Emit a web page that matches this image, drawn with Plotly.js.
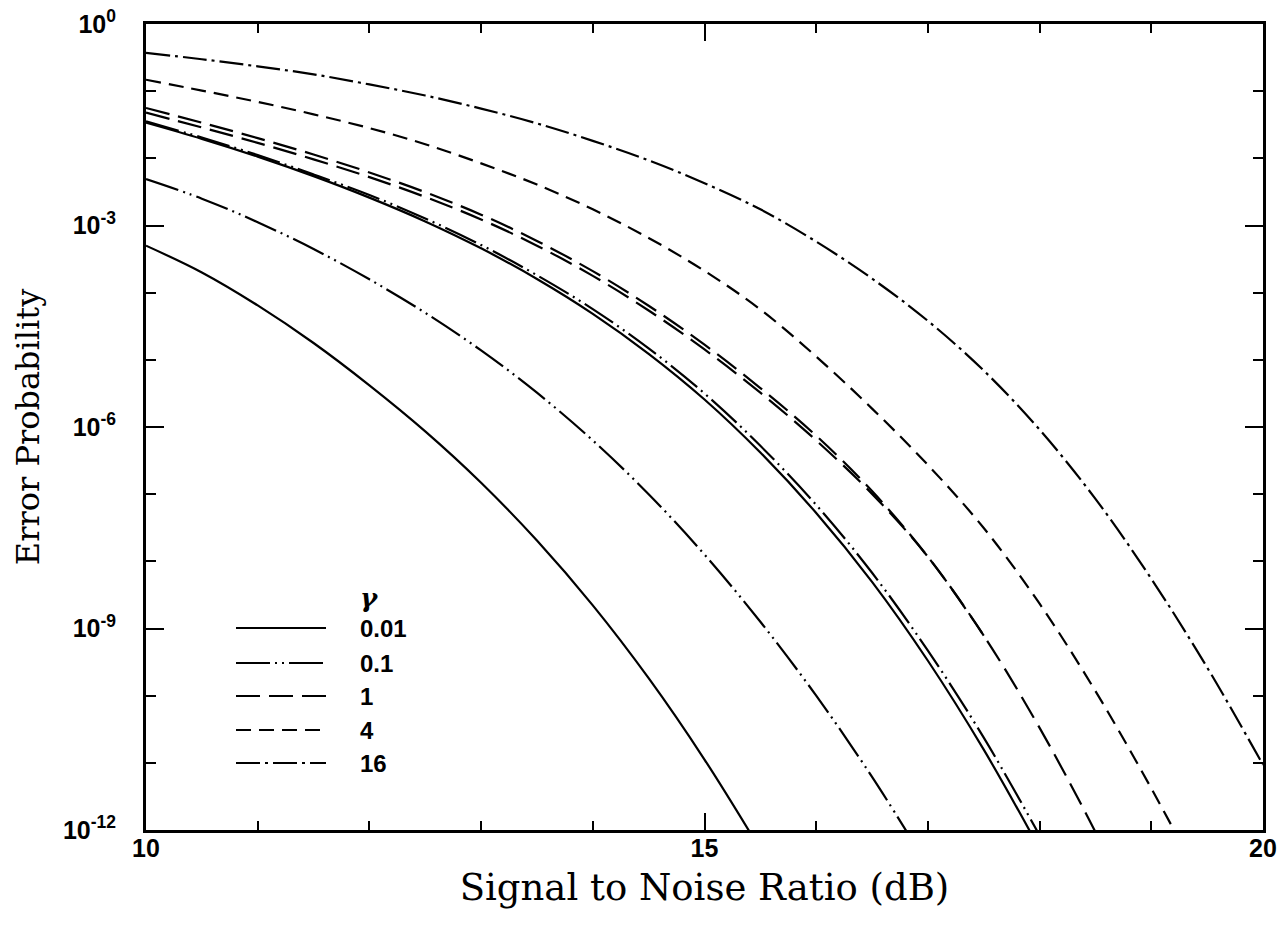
<!DOCTYPE html>
<html><head><meta charset="utf-8">
<script src="https://cdn.plot.ly/plotly-3.0.1.min.js"></script>
<style>html,body{margin:0;padding:0;background:#fff}</style>
</head><body><div id="chart" style="width:1283px;height:927px"></div>
<script>
// ---- data (SNR in dB, error probability) ----
const snrSolidLow = [10, 10.5, 11, 11.5, 12, 12.5, 13, 13.5, 14, 14.5, 15, 15.5];
const peSolidLow  = [5.01e-4, 2.0e-4, 6.46e-5, 1.78e-5, 4.17e-6, 8.61e-7, 1.48e-7, 2.04e-8, 2.21e-9, 1.82e-10, 1.12e-11, 5.13e-13];

const snrDddLow = [10, 10.5, 11, 11.5, 12, 12.5, 13, 13.5, 14, 14.5, 15, 15.5, 16, 16.5, 17];
const peDddLow  = [4.90e-3, 2.51e-3, 1.12e-3, 4.47e-4, 1.58e-4, 5.01e-5, 1.38e-5, 3.24e-6, 6.31e-7, 1.0e-7, 1.26e-8, 1.26e-9, 1.0e-10, 6.17e-12, 2.92e-13];

const snrSolidHigh = [10, 10.5, 11, 11.5, 12, 12.5, 13, 13.5, 14, 14.5, 15, 15.5, 16, 16.5, 17, 17.5, 18];
const peSolidHigh  = [3.39e-2, 1.95e-2, 1.06e-2, 5.43e-3, 2.60e-3, 1.15e-3, 4.57e-4, 1.60e-4, 4.84e-5, 1.23e-5, 2.57e-6, 4.17e-7, 5.25e-8, 4.95e-9, 3.31e-10, 1.57e-11, 5.25e-13];

const snrDddHigh = [10, 10.5, 11, 11.5, 12, 12.5, 13, 13.5, 14, 14.5, 15, 15.5, 16, 16.5, 17, 17.5, 18];
const peDddHigh  = [3.55e-2, 2.04e-2, 1.12e-2, 5.75e-3, 2.85e-3, 1.27e-3, 5.13e-4, 1.82e-4, 5.69e-5, 1.48e-5, 3.16e-6, 5.25e-7, 6.92e-8, 6.76e-9, 4.68e-10, 2.37e-11, 8.32e-13];

const snrLongA = [10, 10.5, 11, 11.5, 12, 12.5, 13, 13.5, 14, 14.5, 15, 15.5, 16, 16.5, 17, 17.5, 18, 18.5, 19];
const peLongA  = [5.62e-2, 3.39e-2, 2.0e-2, 1.14e-2, 6.17e-3, 3.13e-3, 1.45e-3, 5.89e-4, 2.09e-4, 6.38e-5, 1.68e-5, 3.80e-6, 7.41e-7, 1.11e-7, 1.17e-8, 7.85e-10, 3.31e-11, 9.33e-13, 1.86e-14];

const snrLongB = [10, 10.5, 11, 11.5, 12, 12.5, 13, 13.5, 14, 14.5, 15, 15.5, 16, 16.5, 17, 17.5];
const peLongB  = [4.79e-2, 2.88e-2, 1.70e-2, 9.66e-3, 5.25e-3, 2.66e-3, 1.23e-3, 5.01e-4, 1.78e-4, 5.43e-5, 1.43e-5, 3.24e-6, 6.31e-7, 1.01e-7, 1.17e-8, 7.85e-10];

const snrShort = [10, 10.5, 11, 11.5, 12, 12.5, 13, 13.5, 14, 14.5, 15, 15.5, 16, 16.5, 17, 17.5, 18, 18.5, 19, 19.5];
const peShort  = [0.148, 0.102, 6.92e-2, 4.52e-2, 2.82e-2, 1.62e-2, 8.41e-3, 4.07e-3, 1.74e-3, 6.53e-4, 2.11e-4, 5.62e-5, 1.12e-5, 1.88e-6, 2.72e-7, 3.13e-8, 2.34e-9, 1.17e-10, 4.17e-12, 1.17e-13];

const snrDashDot = [10, 10.5, 11, 11.5, 12, 12.5, 13, 13.5, 14, 14.5, 15, 15.5, 16, 16.5, 17, 17.5, 18, 18.5, 19, 19.5, 20];
const peDashDot  = [0.372, 0.299, 0.234, 0.178, 0.126, 8.61e-2, 5.50e-2, 3.31e-2, 1.82e-2, 9.33e-3, 4.27e-3, 1.74e-3, 5.75e-4, 1.62e-4, 3.80e-5, 6.92e-6, 9.12e-7, 8.51e-8, 5.50e-9, 2.63e-10, 9.33e-12];

const gammaLabels = ['0.01', '0.1', '1', '4', '16'];
const xTickVals = [10, 15, 20];
const xTickText = ['10', '15', '20'];
const xMinorVals = [11, 12, 13, 14, 16, 17, 18, 19];
const yTickVals = [1, 1e-3, 1e-6, 1e-9, 1e-12];
const yTickText = ['10<sup>0</sup>', '10<sup>-3</sup>', '10<sup>-6</sup>', '10<sup>-9</sup>', '10<sup>-12</sup>'];
const yMinorVals = [1e-1, 1e-2, 1e-4, 1e-5, 1e-7, 1e-8, 1e-10, 1e-11];

// ---- styles ----
const DASH = {
  '0.01': 'solid',
  '0.1': '34px,5px,2px,5px,2px,5px',
  '1': '24px,9px',
  '4': '15px,8px',
  '16': '24px,5px,3px,5px'
};
const LW = 2.2;
function tr(x, y, g, name) {
  return {x: x, y: y, type: 'scatter', mode: 'lines', name: name, showlegend: false,
    hoverinfo: 'x+y+name',
    line: {color: '#000', width: LW, dash: DASH[g], shape: 'spline', smoothing: 1}};
}
const traces = [
  tr(snrSolidLow, peSolidLow, '0.01', 'γ = 0.01 (a)'),
  tr(snrDddLow, peDddLow, '0.1', 'γ = 0.1 (a)'),
  tr(snrSolidHigh, peSolidHigh, '0.01', 'γ = 0.01 (b)'),
  tr(snrDddHigh, peDddHigh, '0.1', 'γ = 0.1 (b)'),
  tr(snrLongA, peLongA, '1', 'γ = 1 (a)'),
  tr(snrLongB, peLongB, '1', 'γ = 1 (b)'),
  tr(snrShort, peShort, '4', 'γ = 4'),
  tr(snrDashDot, peDashDot, '16', 'γ = 16')
];

// ---- hand-drawn legend (long line samples as in the reference) ----
const L = 146, R = 1263, T = 24, B = 830;
const px = v => (v - L) / (R - L);
const py = v => (B - v) / (B - T);
const rowsY = [628, 663, 696, 730, 763];
const shapes = [], annotations = [];
gammaLabels.forEach((g, i) => {
  shapes.push({type: 'line', xref: 'paper', yref: 'paper',
    x0: px(236), x1: px(g === '4' ? 320 : 326), y0: py(rowsY[i]), y1: py(rowsY[i]),
    line: {color: '#000', width: LW, dash: DASH[g]}});
  annotations.push({xref: 'paper', yref: 'paper', x: px(358), y: py(rowsY[i]),
    xanchor: 'left', yanchor: 'middle', showarrow: false, text: g,
    font: {family: 'Liberation Sans', size: 24, color: '#000', weight: 'bold'}});
});
annotations.push({xref: 'paper', yref: 'paper', x: px(358), y: py(598),
  xanchor: 'left', yanchor: 'middle', showarrow: false, text: '<i>γ</i>',
  font: {family: 'DejaVu Serif', size: 26, color: '#000', weight: 'bold'}});

const tickFont = {family: 'Liberation Sans', size: 25, color: '#000', weight: 'bold'};
const layout = {
  width: 1283, height: 927,
  margin: {l: L, r: 1283 - R, t: T, b: 927 - B, pad: 0},
  paper_bgcolor: '#fff', plot_bgcolor: '#fff',
  showlegend: false,
  xaxis: {
    range: [10, 20], showgrid: false, zeroline: false,
    showline: true, linewidth: 3, linecolor: '#000', mirror: 'ticks',
    ticks: 'inside', ticklen: 17, tickwidth: 2, tickcolor: '#000',
    tickmode: 'array', tickvals: xTickVals, ticktext: xTickText, tickfont: tickFont,
    ticklabelstandoff: -6,
    minor: {tickmode: 'array', tickvals: xMinorVals, ticks: 'inside', ticklen: 9, tickwidth: 2, tickcolor: '#000', showgrid: false},
    title: {text: 'Signal to Noise Ratio (dB)', standoff: 14,
      font: {family: 'DejaVu Serif', size: 37, color: '#000'}},
    automargin: false
  },
  yaxis: {
    type: 'log', range: [-12, 0], showgrid: false, zeroline: false,
    showline: true, linewidth: 3, linecolor: '#000', mirror: 'ticks',
    ticks: 'inside', ticklen: 18, tickwidth: 2, tickcolor: '#000',
    tickmode: 'array', tickvals: yTickVals, ticktext: yTickText, tickfont: tickFont,
    ticklabelstandoff: 22,
    minor: {tickmode: 'array', tickvals: yMinorVals, ticks: 'inside', ticklen: 10, tickwidth: 2, tickcolor: '#000', showgrid: false},
    title: {text: 'Error Probability', standoff: 14,
      font: {family: 'DejaVu Serif', size: 32, color: '#000'}},
    automargin: false
  },
  shapes: shapes,
  annotations: annotations
};
Plotly.newPlot('chart', traces, layout, {displayModeBar: false, staticPlot: true});
</script></body></html>
